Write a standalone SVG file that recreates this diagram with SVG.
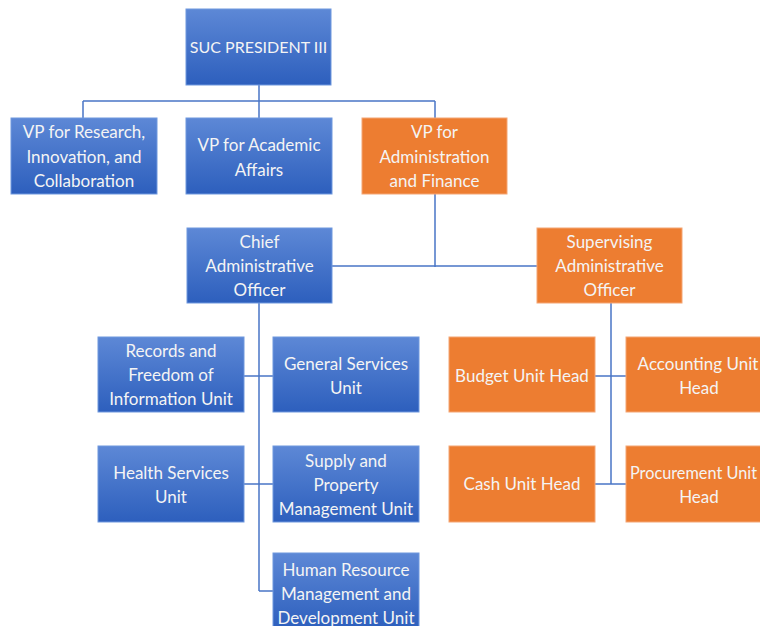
<svg xmlns="http://www.w3.org/2000/svg" width="760" height="626" viewBox="0 0 760 626">
<defs>
<linearGradient id="blueGrad" x1="0" y1="0" x2="0" y2="1">
<stop offset="0" stop-color="#5d88d6"/>
<stop offset="1" stop-color="#2d5fbd"/>
</linearGradient>
<style>
.blue{fill:url(#blueGrad);stroke:#6f98de;stroke-width:1}
.orange{fill:#ed7d31;stroke:#f4a675;stroke-width:1}
.t{font-family:Lato,"Liberation Sans",sans-serif;font-size:17px;fill:#f4f4f4;text-anchor:middle}
.s{font-size:16px}
.c{fill:none;stroke:#4a76c6;stroke-width:1.5}
</style>
</defs>
<rect width="760" height="626" fill="#ffffff"/>
<g id="connectors">
<path class="c" d="M259 85V101M83 101H435M83 101V118M259 101V118M435 101V118"/>
<path class="c" d="M435 194V267M332 266H537"/>
<path class="c" d="M259 303V591M244 376H273M244 484H273M259 591H273"/>
<path class="c" d="M611 303V484M595 376H626M595 484H626"/>
</g>
<g id="president"><rect class="blue" x="186" y="9" width="145" height="76"/><text class="t s" x="258.5" y="53">SUC PRESIDENT III</text></g>
<g id="vp-research"><rect class="blue" x="11" y="118" width="146" height="76"/><text class="t" x="84" y="138">VP for Research,</text><text class="t" x="84" y="162.5">Innovation, and</text><text class="t" x="84" y="187">Collaboration</text></g>
<g id="vp-academic"><rect class="blue" x="186" y="118" width="146" height="76"/><text class="t" x="259" y="151">VP for Academic</text><text class="t" x="259" y="175.5">Affairs</text></g>
<g id="vp-admin"><rect class="orange" x="362" y="118" width="145" height="76"/><text class="t" x="434.5" y="138">VP for</text><text class="t" x="434.5" y="162.5">Administration</text><text class="t" x="434.5" y="187">and Finance</text></g>
<g id="chief-admin"><rect class="blue" x="187" y="228" width="145" height="75"/><text class="t" x="259.5" y="248">Chief</text><text class="t" x="259.5" y="272">Administrative</text><text class="t" x="259.5" y="296">Officer</text></g>
<g id="supervising-admin"><rect class="orange" x="537" y="228" width="145" height="75"/><text class="t" x="609.5" y="248">Supervising</text><text class="t" x="609.5" y="272">Administrative</text><text class="t" x="609.5" y="296">Officer</text></g>
<g id="records"><rect class="blue" x="98" y="337" width="146" height="75"/><text class="t" x="171" y="357">Records and</text><text class="t" x="171" y="381">Freedom of</text><text class="t" x="171" y="405">Information Unit</text></g>
<g id="general-services"><rect class="blue" x="273" y="337" width="146" height="75"/><text class="t" x="346" y="369.5">General Services</text><text class="t" x="346" y="393.5">Unit</text></g>
<g id="health-services"><rect class="blue" x="98" y="446" width="146" height="76"/><text class="t" x="171" y="478.5">Health Services</text><text class="t" x="171" y="502.5">Unit</text></g>
<g id="supply-property"><rect class="blue" x="273" y="446" width="146" height="76"/><text class="t" x="346" y="466.5">Supply and</text><text class="t" x="346" y="490.5">Property</text><text class="t" x="346" y="514.5">Management Unit</text></g>
<g id="human-resource"><rect class="blue" x="273" y="553" width="146" height="76"/><text class="t" x="346" y="575.5">Human Resource</text><text class="t" x="346" y="599.5">Management and</text><text class="t" x="346" y="623.5">Development Unit</text></g>
<g id="budget"><rect class="orange" x="449" y="337" width="146" height="75"/><text class="t" x="522" y="381.5">Budget Unit Head</text></g>
<g id="accounting"><rect class="orange" x="626" y="337" width="146" height="75"/><text class="t" x="698" y="369.5">Accounting Unit</text><text class="t" x="699" y="393.5">Head</text></g>
<g id="cash"><rect class="orange" x="449" y="446" width="146" height="76"/><text class="t" x="522" y="490">Cash Unit Head</text></g>
<g id="procurement"><rect class="orange" x="626" y="446" width="146" height="76"/><text class="t" x="693.5" y="478.5" style="font-size:16.3px">Procurement Unit</text><text class="t" x="699" y="502.5">Head</text></g>
</svg>
